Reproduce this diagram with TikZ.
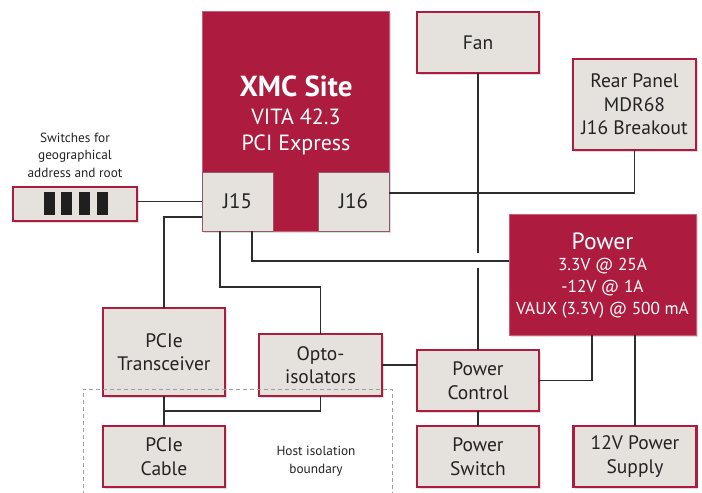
\documentclass[tikz,border=0pt]{standalone}
\usepackage{fontspec}
\setmainfont{PT Sans}
\usetikzlibrary{shadows,calc}
\definecolor{crim}{RGB}{173,28,63}
\definecolor{boxfill}{RGB}{229,225,220}
\definecolor{ln}{RGB}{45,45,45}
\definecolor{txt}{RGB}{35,35,35}
\begin{document}
\begin{tikzpicture}[x=1pt,y=-1pt,
  shad/.style={drop shadow={shadow xshift=1.6pt,shadow yshift=-1.6pt,opacity=0.28}},
  lbox/.style={draw=crim, line width=2.2pt, fill=boxfill, inner sep=0pt, outer sep=0pt,
    align=center, text=txt, font=\fontsize{19.5}{23.5}\selectfont, shad},
  rbox/.style={fill=crim, draw=crim!70!white, line width=0.5pt, inner sep=0pt, outer sep=0pt, shad},
  jbox/.style={fill=boxfill, draw=crim!40!gray, line width=0.4pt, inner sep=0pt, outer sep=0pt,
    text=txt, font=\fontsize{21}{24}\selectfont},
  wtext/.style={text=white, align=center, inner sep=0pt},
  small/.style={text=txt, align=center, inner sep=0pt, font=\fontsize{13.3}{17.5}\selectfont},
  conn/.style={draw=ln, line width=1.1pt},
  boundary/.style={draw=gray!75, line width=0.8pt, dash pattern=on 4pt off 3pt}
]
\useasboundingbox (0,0) rectangle (702,493);

% XMC site
\node[rbox, minimum width=187, minimum height=220] (xmc) at (295.5,121) {};
\node[jbox, minimum width=71, minimum height=59] (j15) at (237.5,201.5) {J15};
\node[jbox, minimum width=71, minimum height=59] (j16) at (353.5,201.5) {J16};
\node[wtext, font=\fontsize{29}{32}\bfseries\selectfont] (xmct) at (296,86) {XMC Site};
\node[wtext, font=\fontsize{22}{24}\selectfont] (xmcv) at (296,117) {VITA 42.3};
\node[wtext, font=\fontsize{22}{24}\selectfont] (xmcp) at (296,145) {PCI Express};

% Power
\node[rbox, minimum width=187, minimum height=121] (power) at (602.5,274.5) {};
\node[wtext, font=\fontsize{23.5}{26}\selectfont] (pt0) at (602.5,241) {Power};
\node[wtext, font=\fontsize{17.3}{20}\selectfont] (pt1) at (602.5,266) {3.3V @ 25A};
\node[wtext, font=\fontsize{17.3}{20}\selectfont] (pt2) at (602.5,288) {-12V @ 1A};
\node[wtext, font=\fontsize{17.3}{20}\selectfont] (pt3) at (602.5,310) {VAUX (3.3V) @ 500 mA};

% light boxes
\node[lbox, minimum width=122, minimum height=61] (fan) at (478,42.5) {Fan};
\node[lbox, minimum width=123, minimum height=91] (rear) at (634.5,104.5) {Rear Panel\\MDR68\\J16 Breakout};
\node[lbox, minimum width=124, minimum height=34] (sw) at (75,204) {};
\node[lbox, minimum width=122, minimum height=88] (pcietr) at (164,352) {PCIe\\Transceiver};
\node[lbox, minimum width=123, minimum height=62] (opto) at (320.5,365) {Opto-\\isolators};
\node[lbox, minimum width=122, minimum height=61] (cable) at (164,456.5) {PCIe\\Cable};
\node[lbox, minimum width=122, minimum height=61] (pctrl) at (478,380.5) {Power\\Control};
\node[lbox, minimum width=122, minimum height=61] (pswitch) at (478,456.5) {Power\\Switch};
\node[lbox, minimum width=123, minimum height=61] (supply) at (635,456.5) {12V Power\\Supply};

% switch bars
\foreach \x in {49,66.5,84.5,102}
  \fill[black!88] (\x-5.5,192) rectangle (\x+5.5,215);

% labels
\node[small] (swlabel) at (75,155) {Switches for\\geographical\\address and root};
\node[small] (hostlabel) at (316,461) {Host isolation\\boundary};

% connectors
\draw[conn] (sw.east |- j15.west) -- (j15.west);
\draw[conn] ([yshift=-15.5pt]j15.west) -| (pcietr.north);
\draw[conn] ([xshift=-17.5pt]j15.south) -- ++(0,56) -| (opto.north);
\draw[conn] ([xshift=14.5pt]j15.south) |- ([yshift=13.5pt]power.west);
\draw[conn] ([yshift=8.5pt]j16.east) -| (rear.south);
\draw[conn] (fan.south) -- ++(0,180);
\draw[conn] (pctrl.north) -- ++(0,-82);
\draw[conn] (opto.east) -- (opto.east -| pctrl.west);
\draw[conn] (pctrl.east) -| ([xshift=-10.5pt]power.south);
\draw[conn] (power.south -| supply.north) -- (supply.north);
\draw[conn] (pctrl.south) -- (pswitch.north);
\draw[conn] (pcietr.south) -- (cable.north);
\draw[conn] (opto.south) -- ++(0,15) -| (cable.north);

% isolation boundary
\draw[boundary] (83,495) -- (83,389) -- (392,389) -- (392,495);
\end{tikzpicture}
\end{document}
